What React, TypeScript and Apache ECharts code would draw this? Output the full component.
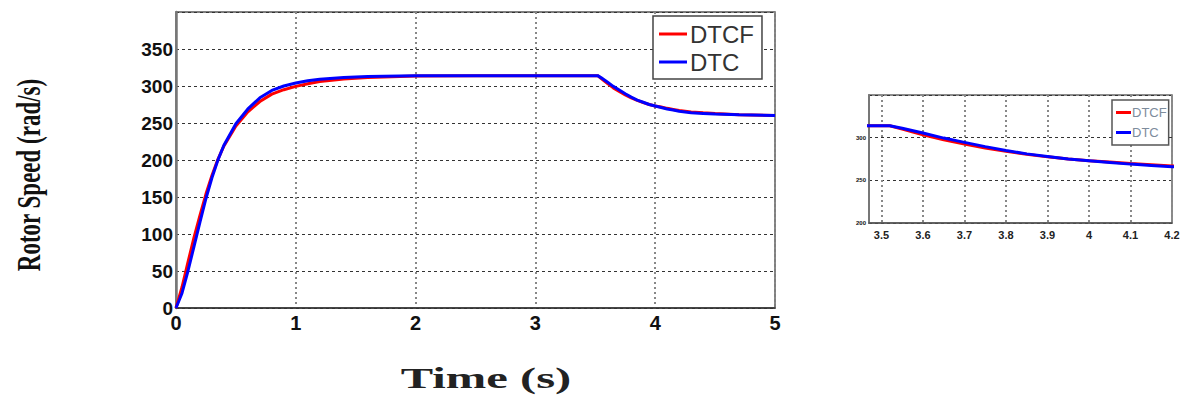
import React, { useEffect, useRef } from "react";
import * as echarts from "echarts";

// Time samples (s)
const time = [0, 0.05, 0.1, 0.15, 0.2, 0.25, 0.3, 0.35, 0.4, 0.5, 0.6, 0.7, 0.8, 0.9, 1.0, 1.1, 1.2, 1.4, 1.6, 2.0, 2.5, 3.0, 3.5, 3.52, 3.55, 3.6, 3.65, 3.7, 3.75, 3.8, 3.85, 3.9, 3.95, 4.0, 4.05, 4.1, 4.15, 4.2, 4.3, 4.4, 4.5, 4.7, 5.0];
// Rotor speed (rad/s)
const dtcf = [0, 28, 62, 95, 125, 154, 179, 201, 219, 246, 265, 279, 289, 295, 299.5, 303, 306, 309.5, 311.5, 313.5, 314, 314, 314, 314, 310, 303.5, 297.5, 292.5, 288, 284, 280.5, 277.5, 275, 273, 271.5, 269.8, 268.3, 266.8, 265, 263.7, 262.7, 261, 260];
const dtc = [0, 20, 50, 83, 116, 148, 176, 200, 220, 249, 269, 284, 294, 300, 304, 307, 309, 311.5, 313, 314, 314, 314, 314, 314, 311, 305.5, 299.5, 294.5, 289.5, 285, 281, 278, 275, 273, 271, 269, 267.5, 266, 264, 263, 262, 261, 260];
const seriesNames = ["DTCF", "DTC"];
const mainXTicks = [0, 1, 2, 3, 4, 5];
const insetXTicks = [3.5, 3.6, 3.7, 3.8, 3.9, 4, 4.1, 4.2];

const pairs = (ys: number[]) => time.map((t, i) => [t, ys[i]]);

export default function App() {
  const ref = useRef<HTMLDivElement>(null);
  useEffect(() => {
    if (!ref.current) return;
    const chart = echarts.init(ref.current, undefined, { renderer: "svg" });
    const hDash = { show: true, lineStyle: { color: "#333", type: [3, 3], width: 1 } };
    const vDot = { show: true, lineStyle: { color: "#888", type: [2, 3], width: 2 } };
    const lineCommon = (color: string, xi: number, yi: number, name: string) => ({
      type: "line",
      name,
      xAxisIndex: xi,
      yAxisIndex: yi,
      showSymbol: false,
      symbol: "none",
      lineStyle: { color, width: 3 },
      itemStyle: { color },
      clip: true,
    });
    chart.setOption({
      animation: false,
      backgroundColor: "#fff",
      grid: [
        { left: 176, right: 408, top: 12, bottom: 88, show: true, borderColor: "#555", borderWidth: 1.5 },
        { left: 869, right: 11, top: 95, bottom: 173, show: true, borderColor: "#666", borderWidth: 1.5 },
      ],
      legend: [
        {
          data: seriesNames,
          orient: "vertical",
          left: 653,
          top: 16,
          padding: [6, 8, 5, 6],
          itemGap: 4,
          itemWidth: 28,
          itemHeight: 3,
          icon: "rect",
          borderColor: "#444",
          borderWidth: 1.5,
          backgroundColor: "#fff",
          textStyle: { fontFamily: "Liberation Sans", fontSize: 24, color: "#333", padding: [0, 0, 0, -2] },
        },
        {
          data: seriesNames,
          orient: "vertical",
          left: 1112,
          top: 100,
          padding: [6, 2, 6, 4],
          itemGap: 7,
          itemWidth: 15,
          itemHeight: 3,
          icon: "rect",
          borderColor: "#555",
          borderWidth: 1.5,
          backgroundColor: "#fff",
          textStyle: { fontFamily: "Liberation Sans", fontSize: 13, color: "#7d8c9c", padding: [0, 0, 0, -4] },
        },
      ],
      xAxis: [
        {
          type: "value",
          gridIndex: 0,
          min: 0,
          max: 5,
          interval: 1,
          axisLine: { show: true, lineStyle: { color: "#333", width: 1.5 } },
          axisTick: { show: false },
          splitLine: vDot,
          axisLabel: {
            fontFamily: "Liberation Sans",
            fontWeight: "bold",
            fontSize: 20,
            color: "#111",
            margin: 5,
            customValues: mainXTicks,
          },
        },
        {
          type: "value",
          gridIndex: 1,
          min: 3.47,
          max: 4.2,
          axisLine: { show: true, lineStyle: { color: "#555", width: 1.5 } },
          axisTick: { show: false, customValues: insetXTicks },
          splitLine: vDot,
          axisLabel: {
            customValues: insetXTicks,
            fontFamily: "Liberation Sans",
            fontWeight: "bold",
            fontSize: 11,
            color: "#222",
            margin: 6,
            formatter: (v: number) => String(Math.round(v * 10) / 10),
          },
        },
      ],
      yAxis: [
        {
          type: "value",
          gridIndex: 0,
          min: 0,
          max: 400,
          interval: 50,
          axisLine: { show: true, lineStyle: { color: "#777", width: 2.5 } },
          axisTick: { show: false },
          splitLine: hDash,
          axisLabel: {
            showMaxLabel: false,
            fontFamily: "Liberation Sans",
            fontWeight: "bold",
            fontSize: 19,
            color: "#111",
            margin: 3,
          },
        },
        {
          type: "value",
          gridIndex: 1,
          min: 200,
          max: 350,
          interval: 50,
          axisLine: { show: true, lineStyle: { color: "#777", width: 2 } },
          axisTick: { show: false },
          splitLine: hDash,
          axisLabel: {
            showMaxLabel: false,
            fontFamily: "Liberation Sans",
            fontWeight: "bold",
            fontSize: 6,
            color: "#111",
            margin: 3,
          },
        },
      ],
      series: [
        { ...lineCommon("#ff0000", 0, 0, "DTCF"), data: pairs(dtcf) },
        { ...lineCommon("#0000ff", 0, 0, "DTC"), data: pairs(dtc) },
        { ...lineCommon("#ff0000", 1, 1, "DTCF"), data: pairs(dtcf) },
        { ...lineCommon("#0000ff", 1, 1, "DTC"), data: pairs(dtc) },
      ],
      graphic: [
        {
          type: "text",
          x: 28,
          y: 175,
          rotation: Math.PI / 2,
          scaleY: 1.45,
          style: {
            text: "Rotor Speed (rad/s)",
            font: 'bold 23px "Liberation Serif"',
            fill: "#111",
            align: "center",
            verticalAlign: "middle",
          },
        },
        {
          type: "text",
          x: 486,
          y: 378,
          scaleX: 1.62,
          style: {
            text: "Time (s)",
            font: 'bold 30px "Liberation Serif"',
            fill: "#222",
            align: "center",
            verticalAlign: "middle",
          },
        },
      ],
    });
    return () => chart.dispose();
  }, []);
  return <div ref={ref} style={{ width: 1183, height: 396, position: "absolute", left: 0, top: 0 }} />;
}
